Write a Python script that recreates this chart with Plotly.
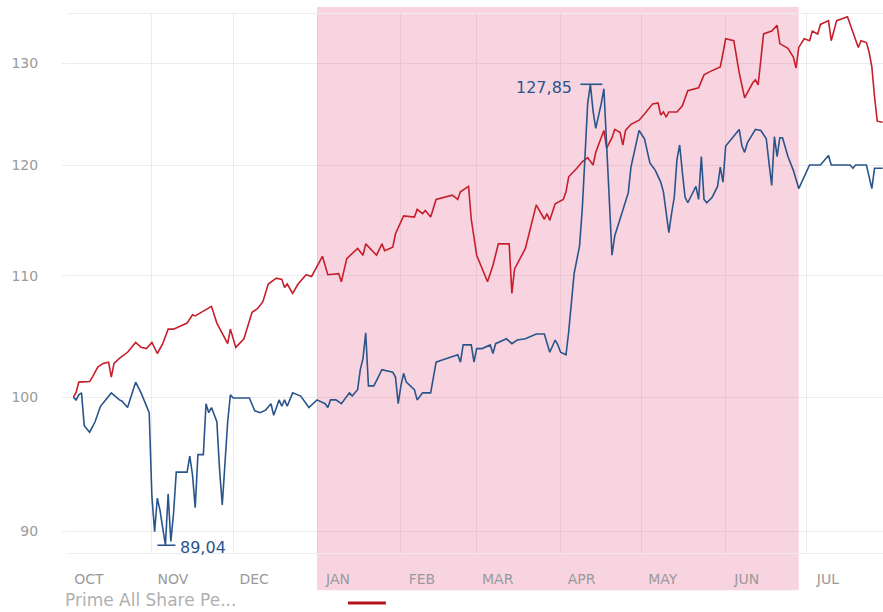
import math
import plotly.graph_objects as go

# ---------------- data ----------------
red_dates = [
    "2012-10-03", "2012-10-04", "2012-10-05", "2012-10-09", "2012-10-10", "2012-10-12", "2012-10-14",
    "2012-10-16", "2012-10-17", "2012-10-18", "2012-10-20", "2012-10-23", "2012-10-26", "2012-10-28",
    "2012-10-30", "2012-11-01", "2012-11-03", "2012-11-05", "2012-11-07", "2012-11-09", "2012-11-14",
    "2012-11-16", "2012-11-17", "2012-11-23", "2012-11-25", "2012-11-29", "2012-11-30", "2012-12-02",
    "2012-12-05", "2012-12-08", "2012-12-10", "2012-12-12", "2012-12-14", "2012-12-17", "2012-12-19",
    "2012-12-20", "2012-12-21", "2012-12-23", "2012-12-25", "2012-12-28", "2012-12-30",
    "2013-01-03", "2013-01-05", "2013-01-09", "2013-01-10", "2013-01-12", "2013-01-16", "2013-01-18",
    "2013-01-19", "2013-01-23", "2013-01-25", "2013-01-26", "2013-01-29", "2013-01-30", "2013-02-02",
    "2013-02-06", "2013-02-07", "2013-02-09", "2013-02-10", "2013-02-12", "2013-02-14", "2013-02-17",
    "2013-02-19", "2013-02-20", "2013-02-22", "2013-02-23", "2013-02-26", "2013-02-27", "2013-03-01",
    "2013-03-05", "2013-03-07", "2013-03-09", "2013-03-13", "2013-03-14", "2013-03-15", "2013-03-19",
    "2013-03-23", "2013-03-26", "2013-03-27", "2013-03-28", "2013-03-30", "2013-04-02", "2013-04-03",
    "2013-04-04", "2013-04-07", "2013-04-09", "2013-04-11", "2013-04-13", "2013-04-14", "2013-04-17",
    "2013-04-18", "2013-04-20", "2013-04-21", "2013-04-23", "2013-04-24", "2013-04-25", "2013-04-27",
    "2013-04-30", "2013-05-02", "2013-05-05", "2013-05-07", "2013-05-08", "2013-05-09", "2013-05-10",
    "2013-05-11", "2013-05-14", "2013-05-16", "2013-05-18", "2013-05-22", "2013-05-24", "2013-05-26",
    "2013-05-30", "2013-05-31", "2013-06-01", "2013-06-04", "2013-06-06", "2013-06-08", "2013-06-11",
    "2013-06-12", "2013-06-13", "2013-06-15", "2013-06-18", "2013-06-20", "2013-06-21", "2013-06-24",
    "2013-06-26", "2013-06-27", "2013-06-28", "2013-06-30", "2013-07-02", "2013-07-03", "2013-07-05",
    "2013-07-06", "2013-07-09", "2013-07-10", "2013-07-12", "2013-07-16", "2013-07-17", "2013-07-19",
    "2013-07-20", "2013-07-21", "2013-07-23", "2013-07-24", "2013-07-25", "2013-07-26", "2013-07-27",
    "2013-07-29",
]
red_values = [
    100.0, 100.4, 101.2, 101.25, 101.6, 102.4, 102.7,
    102.8, 101.6, 102.7, 103.1, 103.6, 104.4, 104.0,
    103.9, 104.4, 103.5, 104.3, 105.5, 105.5, 106.0,
    106.7, 106.6, 107.4, 106.0, 104.3, 105.5, 104.0,
    104.7, 106.9, 107.2, 107.8, 109.3, 109.8, 109.7,
    109.0, 109.3, 108.5, 109.3, 110.1, 109.95,
    111.7, 110.1, 110.2, 109.5, 111.5, 112.4, 111.8,
    112.8, 111.8, 112.8, 112.2, 112.5, 113.7, 115.3,
    115.2, 115.9, 115.5, 115.8, 115.2, 116.8, 117.0,
    117.2, 117.2, 116.8, 117.5, 118.0, 115.0, 111.8,
    109.5, 110.9, 112.8, 112.8, 108.5, 110.6, 112.4,
    116.3, 115.0, 115.5, 114.9, 116.4, 116.8, 117.5,
    118.9, 119.7, 120.3, 120.7, 120.0, 121.2, 123.3,
    121.6, 122.6, 123.4, 123.1, 121.9, 123.3, 123.9,
    124.3, 124.9, 125.9, 126.0, 124.8, 125.1, 124.6,
    125.1, 125.1, 125.7, 127.2, 127.5, 128.8, 129.1,
    129.6, 131.0, 132.5, 132.3, 129.0, 126.5, 128.0,
    128.3, 127.8, 133.0, 133.3, 133.9, 132.0, 131.5,
    130.6, 129.5, 131.6, 132.5, 132.3, 133.3, 133.0,
    134.0, 134.4, 132.3, 134.4, 134.8, 134.0, 132.5,
    131.6, 132.3, 132.1, 131.1, 129.6, 126.6, 124.2,
    124.1,
]

blue_dates = [
    "2012-10-03", "2012-10-04", "2012-10-05", "2012-10-06", "2012-10-07", "2012-10-09", "2012-10-11",
    "2012-10-13", "2012-10-17", "2012-10-20", "2012-10-21", "2012-10-23", "2012-10-26", "2012-10-28",
    "2012-10-31", "2012-11-01", "2012-11-02", "2012-11-03", "2012-11-04", "2012-11-06", "2012-11-07",
    "2012-11-08", "2012-11-09", "2012-11-10", "2012-11-14", "2012-11-15", "2012-11-16", "2012-11-17",
    "2012-11-18", "2012-11-20", "2012-11-21", "2012-11-22", "2012-11-23", "2012-11-25", "2012-11-26",
    "2012-11-27", "2012-11-29", "2012-11-30", "2012-12-01", "2012-12-07", "2012-12-09", "2012-12-11",
    "2012-12-13", "2012-12-15", "2012-12-16", "2012-12-18", "2012-12-19", "2012-12-20", "2012-12-21",
    "2012-12-23", "2012-12-26", "2012-12-29",
    "2013-01-01", "2013-01-04", "2013-01-05", "2013-01-06", "2013-01-08", "2013-01-10", "2013-01-13",
    "2013-01-14", "2013-01-16", "2013-01-17", "2013-01-18", "2013-01-19", "2013-01-20", "2013-01-22",
    "2013-01-25", "2013-01-29", "2013-01-30", "2013-01-31", "2013-02-01", "2013-02-02", "2013-02-03",
    "2013-02-06", "2013-02-07", "2013-02-09", "2013-02-12", "2013-02-14", "2013-02-16", "2013-02-19",
    "2013-02-22", "2013-02-23", "2013-02-24", "2013-02-27", "2013-02-28", "2013-03-01", "2013-03-03",
    "2013-03-06", "2013-03-07", "2013-03-08", "2013-03-12", "2013-03-14", "2013-03-16", "2013-03-19",
    "2013-03-23", "2013-03-26", "2013-03-27", "2013-03-28", "2013-03-30", "2013-03-31", "2013-04-01",
    "2013-04-03", "2013-04-04", "2013-04-05", "2013-04-06", "2013-04-08", "2013-04-09", "2013-04-10",
    "2013-04-11", "2013-04-12", "2013-04-13", "2013-04-14", "2013-04-15", "2013-04-16", "2013-04-17",
    "2013-04-18", "2013-04-19", "2013-04-20", "2013-04-21", "2013-04-23", "2013-04-25", "2013-04-26",
    "2013-04-27", "2013-04-29", "2013-04-30", "2013-05-02", "2013-05-04", "2013-05-06", "2013-05-08",
    "2013-05-09", "2013-05-11", "2013-05-12", "2013-05-13", "2013-05-14", "2013-05-15", "2013-05-16",
    "2013-05-17", "2013-05-18", "2013-05-21", "2013-05-22", "2013-05-23", "2013-05-24", "2013-05-25",
    "2013-05-27", "2013-05-29", "2013-05-30", "2013-05-31", "2013-06-01", "2013-06-04", "2013-06-06",
    "2013-06-07", "2013-06-08", "2013-06-09", "2013-06-12", "2013-06-14", "2013-06-16", "2013-06-17",
    "2013-06-18", "2013-06-19", "2013-06-20", "2013-06-21", "2013-06-22", "2013-06-24", "2013-06-26",
    "2013-06-28", "2013-06-30", "2013-07-02", "2013-07-06", "2013-07-09", "2013-07-10", "2013-07-17",
    "2013-07-18", "2013-07-19", "2013-07-23", "2013-07-24", "2013-07-25", "2013-07-26", "2013-07-29",
]
blue_values = [
    100.0, 99.8, 100.2, 100.35, 97.8, 97.3, 98.1,
    99.3, 100.35, 99.8, 99.7, 99.2, 101.2, 100.35,
    98.8, 92.5, 90.0, 92.4, 91.5, 89.04, 92.7,
    89.3, 91.3, 94.3, 94.3, 95.5, 94.1, 91.7,
    95.6, 95.6, 99.5, 98.8, 99.2, 98.1, 94.5,
    91.9, 98.1, 100.2, 99.95, 99.95, 98.95, 98.8,
    99.0, 99.5, 98.6, 99.8, 99.3, 99.8, 99.3,
    100.35, 100.1, 99.2,
    99.8, 99.5, 99.2, 99.8, 99.8, 99.5, 100.35,
    100.1, 100.6, 102.2, 103.1, 105.2, 100.9, 100.9,
    102.2, 102.0, 101.6, 99.5, 100.9, 101.9, 101.2,
    100.6, 99.8, 100.35, 100.35, 102.8, 102.95, 103.2,
    103.4, 102.8, 104.2, 104.2, 102.8, 103.9, 103.9,
    104.2, 103.5, 104.3, 104.7, 104.3, 104.6, 104.7,
    105.1, 105.1, 104.4, 103.6, 104.6, 104.2, 103.6,
    103.4, 105.3, 108.0, 110.2, 112.6, 115.9, 120.7,
    125.9, 127.85, 125.2, 123.5, 124.6, 125.9, 127.4,
    121.8, 116.0, 111.8, 113.5, 115.0, 116.5, 117.4,
    119.8, 122.3, 123.3, 122.5, 120.2, 119.5, 118.4,
    117.5, 113.8, 115.5, 117.0, 120.5, 121.9, 119.3,
    117.0, 116.5, 118.0, 116.8, 120.8, 116.8, 116.5,
    117.0, 118.0, 119.8, 118.4, 121.8, 122.7, 123.4,
    121.8, 121.2, 122.1, 123.4, 123.3, 122.5, 120.2,
    118.1, 122.7, 120.8, 122.6, 122.6, 120.8, 119.5,
    117.8, 118.9, 120.0, 120.0, 120.9, 120.0, 120.0,
    119.7, 120.0, 120.0, 118.9, 117.8, 119.7, 119.7,
]

month_ticks = ["2012-10-01", "2012-11-01", "2012-12-01", "2013-01-01", "2013-02-01",
               "2013-03-01", "2013-04-01", "2013-05-01", "2013-06-01", "2013-07-01"]
month_labels = ["OCT", "NOV", "DEC", "JAN", "FEB", "MAR", "APR", "MAY", "JUN", "JUL"]
y_ticks = [90, 100, 110, 120, 130]
y_min, y_max = 88.5, 135.1
x_start, x_end = "2012-10-01", "2013-07-29 03:00"
shade_start = "2013-01-01"
shade_end = "2013-06-28"
legend_label = "Prime All Share Pe..."

RED = "#c61f2b"
BLUE = "#2a558a"
GRID = "#ececec"
LABEL = "#9a9a9a"
FONT = "DejaVu Sans"
PINK = "rgba(230,95,145,0.27)"

fig = go.Figure()
# shaded period inside the plot area (a filled band drawn above the grid, below the lines)
fig.add_trace(go.Scatter(x=[shade_start, shade_start, shade_end, shade_end],
                         y=[y_min, y_max, y_max, y_min], mode="lines", fill="toself",
                         fillcolor=PINK, line=dict(width=0), showlegend=False, hoverinfo="skip"))
fig.add_trace(go.Scatter(x=red_dates, y=red_values, mode="lines",
                         line=dict(color=RED, width=1.6), showlegend=False, hoverinfo="skip"))
fig.add_trace(go.Scatter(x=blue_dates, y=blue_values, mode="lines",
                         line=dict(color=BLUE, width=1.6), showlegend=False, hoverinfo="skip"))

# shaded period continued into the margins
fig.add_shape(type="rect", xref="x", yref="paper", x0=shade_start, x1=shade_end,
              y0=-0.069, y1=0, fillcolor=PINK, line_width=0, layer="below")
fig.add_shape(type="rect", xref="x", yref="paper", x0=shade_start, x1=shade_end,
              y0=1, y1=1.013, fillcolor=PINK, line_width=0, layer="below")

# extreme markers on blue series
imax = max(range(len(blue_values)), key=lambda i: blue_values[i])
imin = min(range(len(blue_values)), key=lambda i: blue_values[i])
fmt = lambda v: f"{v:.2f}".replace(".", ",")

fig.add_shape(type="line", xref="x", yref="y", xsizemode="pixel", xanchor=blue_dates[imax],
              x0=-10, x1=12, y0=blue_values[imax], y1=blue_values[imax],
              line=dict(color=BLUE, width=1.6))
fig.add_shape(type="line", xref="x", yref="y", xsizemode="pixel", xanchor=blue_dates[imin],
              x0=-8, x1=10, y0=blue_values[imin], y1=blue_values[imin],
              line=dict(color=BLUE, width=1.6))
fig.add_annotation(x=blue_dates[imax], y=math.log10(blue_values[imax]), text=fmt(blue_values[imax]),
                   showarrow=False, xanchor="right", yanchor="middle", xshift=-16, yshift=-3,
                   font=dict(family=FONT, size=16, color=BLUE))
fig.add_annotation(x=blue_dates[imin], y=math.log10(blue_values[imin]), text=fmt(blue_values[imin]),
                   showarrow=False, xanchor="left", yanchor="middle", xshift=13, yshift=-2,
                   font=dict(family=FONT, size=16, color=BLUE))

# legend row
fig.add_annotation(xref="paper", yref="paper", x=-0.006, y=-0.088, text=legend_label,
                   showarrow=False, xanchor="left", yanchor="middle",
                   font=dict(family=FONT, size=17, color="#b0b0b0"))
fig.add_shape(type="line", xref="paper", yref="paper", x0=0.3436, x1=0.390, y0=-0.0928, y1=-0.0928,
              line=dict(color="#b5121b", width=3))

fig.update_layout(
    width=883, height=612,
    margin=dict(l=68, r=0, t=14, b=59),
    paper_bgcolor="white", plot_bgcolor="white",
    font=dict(family=FONT, size=12, color=LABEL),
    showlegend=False,
    xaxis=dict(type="date", range=[x_start, x_end],
               tickvals=month_ticks, ticktext=month_labels,
               showgrid=True, gridcolor=GRID, gridwidth=1,
               showline=True, linecolor=GRID, linewidth=1, mirror=True,
               ticks="", ticklabelshift=21, ticklabelstandoff=13,
               tickfont=dict(family=FONT, size=14, color=LABEL), zeroline=False),
    yaxis=dict(type="log", range=[math.log10(y_min), math.log10(y_max)],
               tickvals=y_ticks, ticktext=[str(v) for v in y_ticks],
               showgrid=True, gridcolor=GRID, gridwidth=1,
               ticks="outside", ticklen=5, tickcolor=GRID, ticklabelstandoff=21,
               showline=False, zeroline=False,
               tickfont=dict(family=FONT, size=14, color=LABEL)),
)

fig.write_html("out.html", config={"displayModeBar": False},
               post_script="document.body.style.margin='0px';document.body.style.overflow='hidden';")
